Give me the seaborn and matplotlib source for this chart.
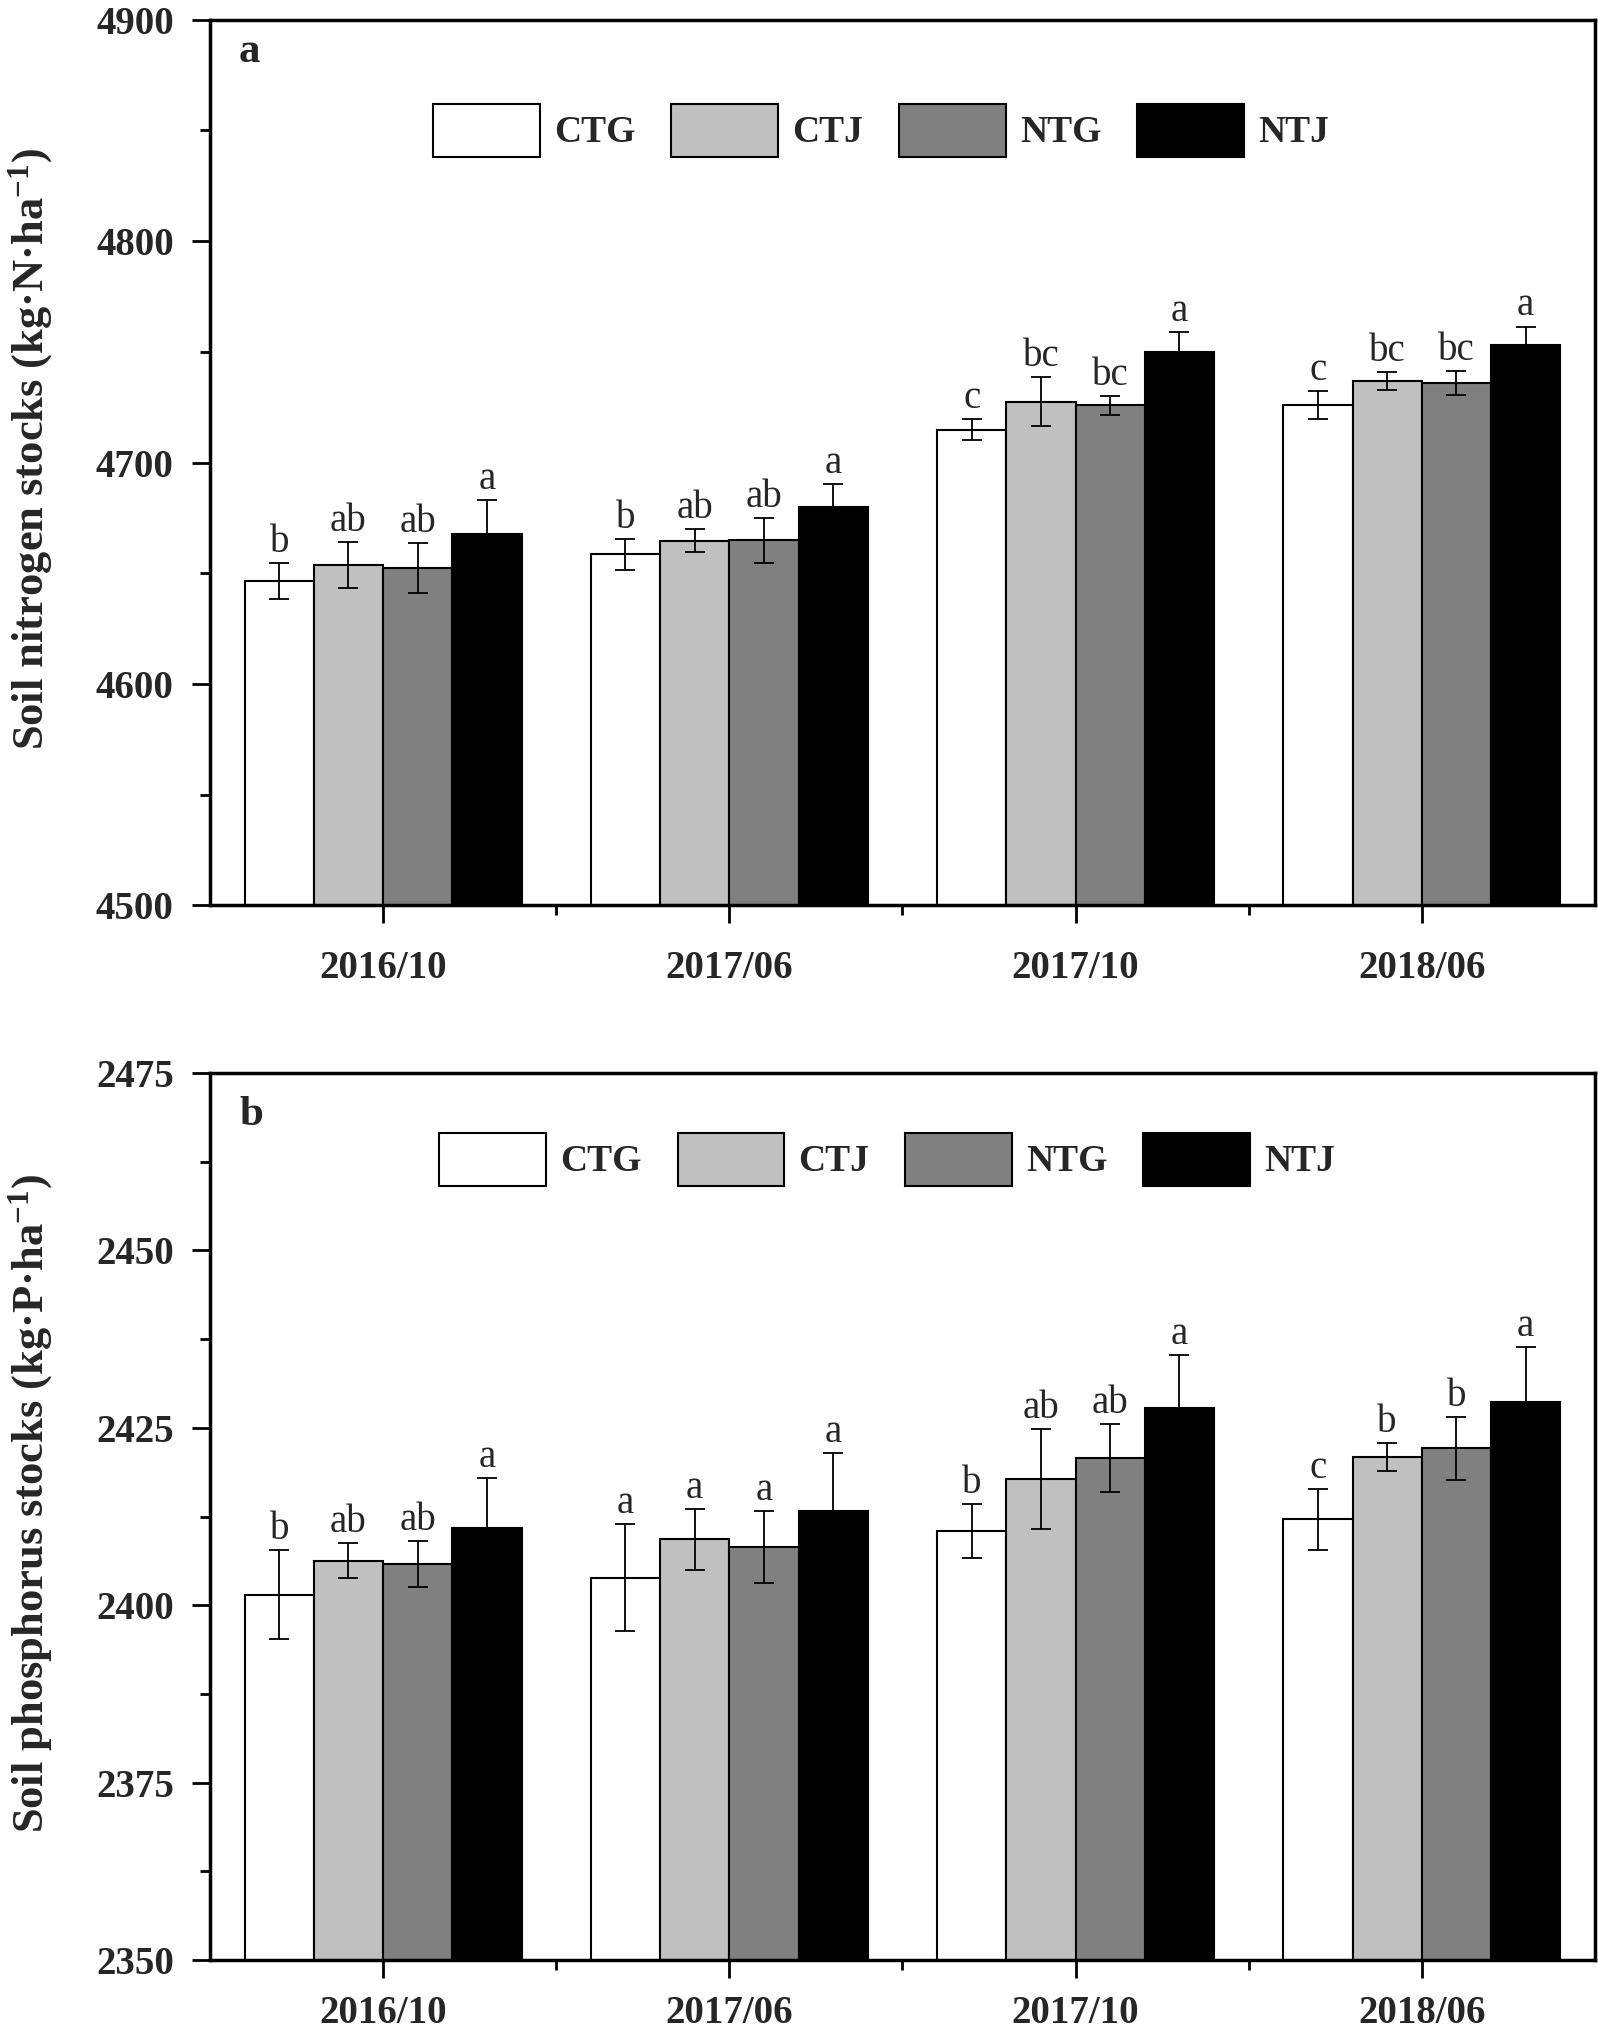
import numpy as np
import pandas as pd
import matplotlib
matplotlib.use("Agg")
import matplotlib.pyplot as plt
import seaborn as sns
from matplotlib.patches import Patch
from matplotlib.ticker import MultipleLocator, FixedLocator, FormatStrFormatter

# ---------------- data ----------------
dates = ["2016/10", "2017/06", "2017/10", "2018/06"]
treatments = ["CTG", "CTJ", "NTG", "NTJ"]
colors = ["#ffffff", "#c0c0c0", "#808080", "#000000"]

# Panel a: soil nitrogen stocks
n_ctg = [4646.5, 4658.5, 4714.9, 4726.0]
n_ctj = [4653.7, 4664.6, 4727.4, 4736.7]
n_ntg = [4652.4, 4664.9, 4725.8, 4735.9]
n_ntj = [4667.6, 4679.8, 4750.0, 4752.9]
n_ctg_err = [8.2, 7.0, 4.8, 6.4]
n_ctj_err = [10.4, 5.2, 11.0, 4.0]
n_ntg_err = [11.3, 10.2, 4.3, 5.2]
n_ntj_err = [15.4, 10.6, 9.0, 8.5]
n_ctg_let = ["b", "b", "c", "c"]
n_ctj_let = ["ab", "ab", "bc", "bc"]
n_ntg_let = ["ab", "ab", "bc", "bc"]
n_ntj_let = ["a", "a", "a", "a"]

# Panel b: soil phosphorus stocks
p_ctg = [2401.5, 2403.9, 2410.4, 2412.1]
p_ctj = [2406.3, 2409.3, 2417.8, 2420.9]
p_ntg = [2405.8, 2408.2, 2420.7, 2422.1]
p_ntj = [2410.9, 2413.3, 2427.8, 2428.7]
p_ctg_err = [6.3, 7.5, 3.8, 4.3]
p_ctj_err = [2.5, 4.3, 7.0, 2.0]
p_ntg_err = [3.3, 5.1, 4.8, 4.4]
p_ntj_err = [7.0, 8.2, 7.4, 7.7]
p_ctg_let = ["b", "a", "b", "c"]
p_ctj_let = ["ab", "a", "ab", "b"]
p_ntg_let = ["ab", "a", "ab", "b"]
p_ntj_let = ["a", "a", "a", "a"]

# ---------------- style ----------------
sns.set_style("ticks")
plt.rcParams["font.family"] = ["Liberation Serif", "DejaVu Serif"]
plt.rcParams["mathtext.fontset"] = "custom"
plt.rcParams["mathtext.rm"] = "Liberation Serif:bold"
plt.rcParams["mathtext.it"] = "Liberation Serif:bold:italic"
plt.rcParams["mathtext.bf"] = "Liberation Serif:bold"
plt.rcParams["mathtext.default"] = "regular"


def draw_panel(ax, means, errs, letters, ylim, major, minor, ylabel, panel,
               legend_xy, panel_xy, ylabel_y, xpad):
    rows = []
    for t, vals in zip(treatments, means):
        for d, v in zip(dates, vals):
            rows.append({"date": d, "treatment": t, "value": v})
    df = pd.DataFrame(rows)
    sns.barplot(data=df, x="date", y="value", hue="treatment", order=dates,
                hue_order=treatments, palette=colors, saturation=1,
                edgecolor="black", linewidth=1.5, errorbar=None, width=0.8,
                legend=False, ax=ax, zorder=2)
    for cont, vals, ee, lets in zip(ax.containers, means, errs, letters):
        xs = [b.get_x() + b.get_width() / 2 for b in cont]
        ax.errorbar(xs, vals, yerr=ee, fmt="none", ecolor="black",
                    elinewidth=1.3, capsize=7, capthick=1.3, zorder=3)
        for x, v, e, l in zip(xs, vals, ee, lets):
            ax.annotate(l, (x, v + e), xytext=(0, 8), textcoords="offset points",
                        ha="center", va="baseline", fontsize=28)
    ax.set_ylim(*ylim)
    ax.set_xlim(-0.5, 3.5)
    ax.yaxis.set_major_locator(MultipleLocator(major))
    ax.yaxis.set_minor_locator(MultipleLocator(minor))
    ax.yaxis.set_major_formatter(FormatStrFormatter("%d"))
    ax.xaxis.set_minor_locator(FixedLocator([0.5, 1.5, 2.5]))
    ax.tick_params(axis="both", which="major", length=13, width=2,
                   direction="out", labelsize=28, color="black")
    ax.tick_params(axis="both", which="minor", length=7, width=2,
                   direction="out", color="black")
    ax.tick_params(axis="x", which="major", pad=xpad)
    ax.tick_params(axis="y", which="major", pad=13)
    for lbl in ax.get_xticklabels() + ax.get_yticklabels():
        lbl.set_fontweight("bold")
    for s in ax.spines.values():
        s.set_visible(True)
        s.set_linewidth(2.5)
        s.set_color("black")
    ax.set_xlabel("")
    ax.set_ylabel(ylabel, fontsize=32, fontweight="bold")
    ax.yaxis.set_label_coords(-0.112, ylabel_y)
    ax.text(panel_xy[0], panel_xy[1], panel, transform=ax.transAxes,
            fontsize=31, fontweight="bold", ha="left", va="center")
    handles = [Patch(facecolor=c, edgecolor="black", linewidth=1.5, label=t)
               for c, t in zip(colors, treatments)]
    ax.legend(handles=handles, loc="center", bbox_to_anchor=legend_xy, ncol=4,
              frameon=False, prop={"weight": "bold", "size": 27},
              handlelength=2.85, handleheight=1.80, handletextpad=0.37,
              columnspacing=0.96, borderpad=0, borderaxespad=0)


fig = plt.figure(figsize=(15.98, 20.37), dpi=100)
ax_a = fig.add_axes([0.1314, 0.5555, 0.8667, 0.4349])
ax_b = fig.add_axes([0.1314, 0.0378, 0.8667, 0.4354])

draw_panel(ax_a, [n_ctg, n_ctj, n_ntg, n_ntj],
           [n_ctg_err, n_ctj_err, n_ntg_err, n_ntj_err],
           [n_ctg_let, n_ctj_let, n_ntg_let, n_ntj_let],
           (4500, 4900), 100, 50,
           "Soil nitrogen stocks (kg·N·ha$^{-1}$)", "a",
           (0.4845, 0.875), (0.021, 0.963), 0.515, 19)
draw_panel(ax_b, [p_ctg, p_ctj, p_ntg, p_ntj],
           [p_ctg_err, p_ctj_err, p_ntg_err, p_ntj_err],
           [p_ctg_let, p_ctj_let, p_ntg_let, p_ntj_let],
           (2350, 2475), 25, 12.5,
           "Soil phosphorus stocks (kg·P·ha$^{-1}$)", "b",
           (0.489, 0.903), (0.021, 0.953), 0.515, 12)

fig.savefig("out.png", dpi=100)
